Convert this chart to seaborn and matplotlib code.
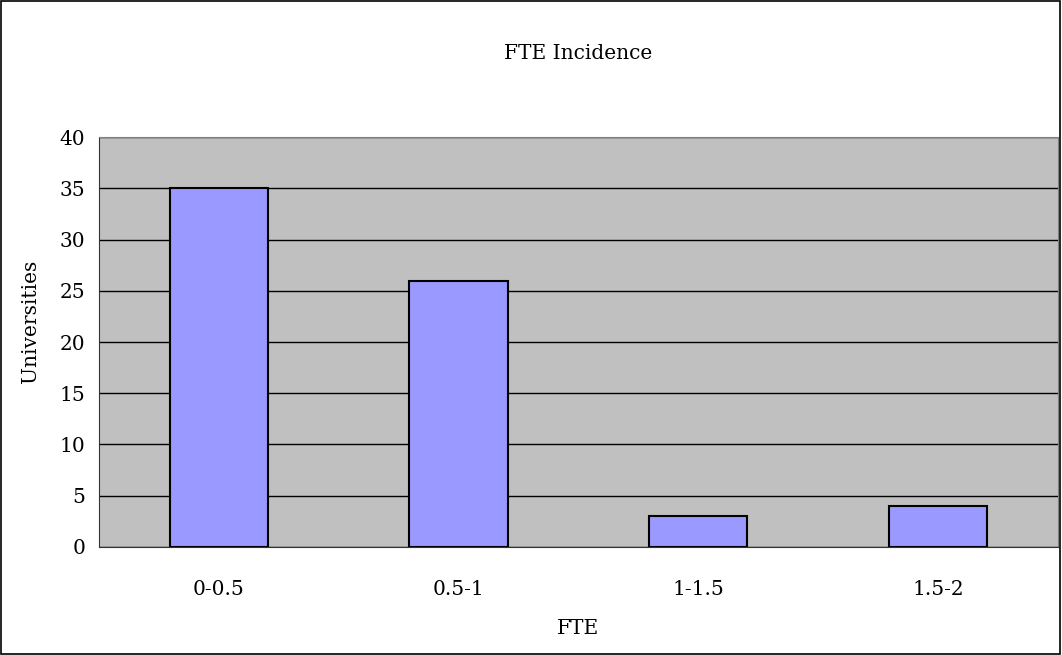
import pandas as pd
import matplotlib.pyplot as plt
import seaborn as sns
from matplotlib.patches import Rectangle

categories = ["0-0.5", "0.5-1", "1-1.5", "1.5-2"]
universities = [35, 26, 3, 4]

df = pd.DataFrame({"FTE": categories, "Universities": universities})

sns.set_style("white")
plt.rcParams["font.family"] = ["DejaVu Serif"]
plt.rcParams["text.color"] = "black"
plt.rcParams["xtick.color"] = "black"
plt.rcParams["ytick.color"] = "black"
plt.rcParams["axes.labelcolor"] = "black"

fig = plt.figure(figsize=(10.62, 6.55), dpi=100)
ax = fig.add_axes([0.0932, 0.1649, 0.903, 0.6259])

sns.barplot(data=df, x="FTE", y="Universities", color="#9999FF",
            edgecolor="black", linewidth=1.5, width=0.41, saturation=1, ax=ax)

ax.set_facecolor("#C0C0C0")
ax.set_ylim(0, 40)
ax.set_xlim(-0.5, 3.5)
ax.set_yticks(range(0, 41, 5))
ax.yaxis.grid(True, color="black", linewidth=1)
ax.set_axisbelow(True)

ax.tick_params(axis="x", which="major", length=0, pad=24, labelsize=14.5)
ax.set_xticks([0.5, 1.5, 2.5], minor=True)
ax.tick_params(axis="x", which="minor", direction="in", length=6, color="#555555")
ax.tick_params(axis="y", length=4, labelsize=14.5, pad=6)

for side in ["left", "bottom"]:
    ax.spines[side].set_color("#333333")
for side in ["top", "right"]:
    ax.spines[side].set_color("#808080")

ax.set_xlabel("FTE", fontsize=14.5, labelpad=14)
ax.set_ylabel("Universities", fontsize=14.5)
ax.yaxis.set_label_coords(-0.062, 0.55)
ax.set_title("FTE Incidence", fontsize=14.5, pad=56)

fig.patches.append(Rectangle((0.001, 0.002), 0.997, 0.996, transform=fig.transFigure,
                             fill=False, edgecolor="black", linewidth=1.2))

fig.savefig("out.png", dpi=100)
